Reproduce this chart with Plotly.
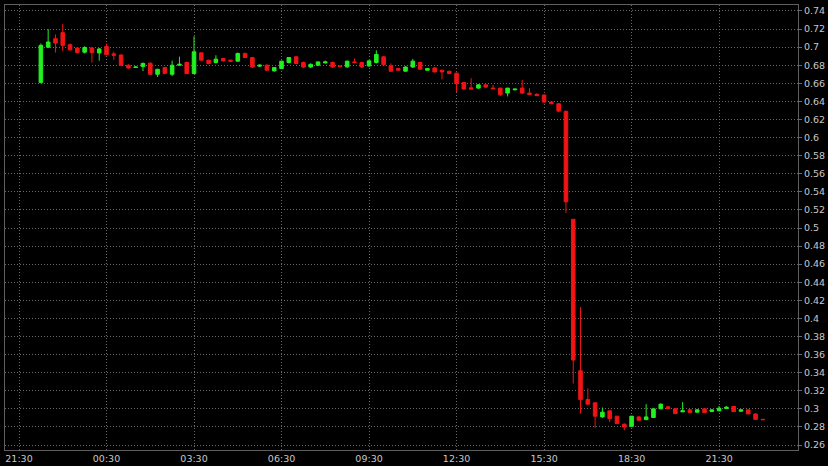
"""15-minute candlestick chart, dark theme."""
import pandas as pd
import plotly.graph_objects as go

times = pd.date_range("2022-05-09 22:15", periods=100, freq="15min")

opens = [
    0.661, 0.700, 0.7094, 0.716, 0.7027, 0.699, 0.6944, 0.699, 0.6936, 0.7008,
    0.6925, 0.6913, 0.680, 0.6775, 0.6785, 0.6823, 0.670, 0.6774, 0.670, 0.680,
    0.683, 0.6708, 0.6937, 0.6856, 0.683, 0.6874, 0.6856, 0.6845, 0.693, 0.6885,
    0.679, 0.680, 0.6737, 0.6763, 0.683, 0.6893, 0.683, 0.678, 0.680, 0.6825,
    0.683, 0.679, 0.6782, 0.6837, 0.683, 0.6793, 0.683, 0.6893, 0.6793, 0.6763,
    0.6734, 0.678, 0.683, 0.6745, 0.677, 0.6745, 0.6733, 0.6712, 0.6608, 0.655,
    0.6547, 0.6583, 0.6547, 0.6547, 0.6492, 0.6529, 0.6547, 0.6492, 0.6478, 0.647,
    0.6393, 0.6374, 0.629, 0.5096, 0.3422, 0.3104, 0.3067, 0.2911, 0.2978, 0.2919,
    0.283, 0.2807, 0.2911, 0.2881, 0.2904, 0.300, 0.3022, 0.300, 0.2967, 0.299,
    0.2963, 0.300, 0.297, 0.2978, 0.3004, 0.3026, 0.2974, 0.2989, 0.2944, 0.2884,
]
highs = [
    0.704, 0.720, 0.714, 0.7257, 0.704, 0.700, 0.701, 0.700, 0.699, 0.704,
    0.695, 0.692, 0.681, 0.679, 0.683, 0.683, 0.676, 0.678, 0.685, 0.6895,
    0.684, 0.712, 0.694, 0.686, 0.691, 0.688, 0.686, 0.694, 0.694, 0.689,
    0.681, 0.681, 0.678, 0.685, 0.689, 0.690, 0.684, 0.682, 0.684, 0.685,
    0.684, 0.680, 0.685, 0.6875, 0.684, 0.686, 0.6965, 0.690, 0.682, 0.677,
    0.679, 0.687, 0.684, 0.677, 0.678, 0.675, 0.674, 0.672, 0.661, 0.6657,
    0.659, 0.659, 0.6583, 0.655, 0.655, 0.654, 0.6638, 0.6547, 0.649, 0.648,
    0.640, 0.638, 0.630, 0.510, 0.4126, 0.3226, 0.307, 0.3015, 0.298, 0.292,
    0.284, 0.292, 0.292, 0.3052, 0.3005, 0.306, 0.303, 0.301, 0.3074, 0.2995,
    0.2995, 0.3005, 0.2995, 0.303, 0.303, 0.303, 0.2995, 0.299, 0.295, 0.2888,
]
lows = [
    0.660, 0.699, 0.694, 0.6955, 0.696, 0.693, 0.693, 0.683, 0.685, 0.691,
    0.686, 0.679, 0.676, 0.677, 0.6736, 0.669, 0.667, 0.670, 0.668, 0.680,
    0.670, 0.670, 0.685, 0.681, 0.682, 0.684, 0.684, 0.684, 0.688, 0.677,
    0.678, 0.674, 0.673, 0.676, 0.682, 0.681, 0.677, 0.677, 0.679, 0.682,
    0.677, 0.678, 0.677, 0.682, 0.677, 0.678, 0.682, 0.680, 0.673, 0.674,
    0.673, 0.677, 0.675, 0.674, 0.672, 0.6645, 0.670, 0.650, 0.653, 0.653,
    0.654, 0.655, 0.6535, 0.646, 0.6455, 0.652, 0.648, 0.647, 0.646, 0.638,
    0.637, 0.628, 0.5166, 0.328, 0.2948, 0.304, 0.2789, 0.290, 0.2855, 0.283,
    0.2763, 0.280, 0.287, 0.2875, 0.290, 0.2995, 0.300, 0.294, 0.2965, 0.2955,
    0.296, 0.2955, 0.2965, 0.2975, 0.300, 0.2965, 0.297, 0.294, 0.288, 0.2878,
]
closes = [
    0.702, 0.7057, 0.7045, 0.702, 0.697, 0.694, 0.6996, 0.694, 0.698, 0.6917,
    0.691, 0.680, 0.677, 0.678, 0.682, 0.670, 0.6755, 0.671, 0.680, 0.681,
    0.6708, 0.6948, 0.6856, 0.6819, 0.6867, 0.6848, 0.6845, 0.693, 0.6885, 0.678,
    0.680, 0.6745, 0.6774, 0.6845, 0.6885, 0.6819, 0.678, 0.681, 0.6837, 0.6837,
    0.678, 0.6785, 0.6845, 0.6830, 0.678, 0.6848, 0.6919, 0.6807, 0.6734, 0.6745,
    0.678, 0.6845, 0.6756, 0.6763, 0.6726, 0.6726, 0.6708, 0.6594, 0.6536, 0.6536,
    0.6583, 0.6558, 0.654, 0.6473, 0.6547, 0.6536, 0.6492, 0.6477, 0.6463, 0.6393,
    0.6374, 0.6293, 0.529, 0.354, 0.3104, 0.3052, 0.2919, 0.2963, 0.2893, 0.2837,
    0.280, 0.2919, 0.2874, 0.2911, 0.300, 0.3052, 0.3004, 0.2948, 0.2978, 0.2959,
    0.2989, 0.2959, 0.2989, 0.3007, 0.3019, 0.297, 0.2989, 0.2944, 0.2884, 0.288,
]

UP = "#22f022"
DOWN = "#f01414"
GRID = "#6a6a6a"

fig = go.Figure(
    go.Candlestick(
        x=times, open=opens, high=highs, low=lows, close=closes,
        increasing=dict(line=dict(color=UP, width=1), fillcolor=UP),
        decreasing=dict(line=dict(color=DOWN, width=1), fillcolor=DOWN),
        showlegend=False,
    )
)

fig.update_layout(
    width=828, height=466,
    paper_bgcolor="#000000", plot_bgcolor="#000000",
    margin=dict(l=5, r=30, t=5, b=16),
    font=dict(family="DejaVu Sans", size=9.5, color="#c8c8c8"),
)
fig.update_xaxes(
    type="date", automargin=False,
    range=["2022-05-09 21:01:12", "2022-05-11 00:12:18"],
    tick0="2022-05-09 21:30", dtick=3 * 3600 * 1000, tickformat="%H:%M",
    showgrid=True, gridcolor=GRID, griddash="1px,2px", gridwidth=1,
    showline=True, linecolor="#5f5f5f", linewidth=1, mirror=True,
    ticks="", ticklabelstandoff=0,
    rangeslider=dict(visible=False), zeroline=False,
)
fig.update_yaxes(
    side="right", automargin=False,
    range=[0.2545, 0.7466],
    tick0=0.26, dtick=0.02, tickformat="~g",
    showgrid=True, gridcolor=GRID, griddash="1px,2px", gridwidth=1,
    showline=True, linecolor="#5f5f5f", linewidth=1, mirror=True,
    ticks="outside", ticklen=3, tickcolor=GRID,
    zeroline=False,
)

# drop the browser's default page margin so the figure sits at the top-left corner
fig.write_html(
    "out.html",
    config={"displayModeBar": False},
    post_script="document.body.style.margin='0';document.body.style.background='#000';",
)
